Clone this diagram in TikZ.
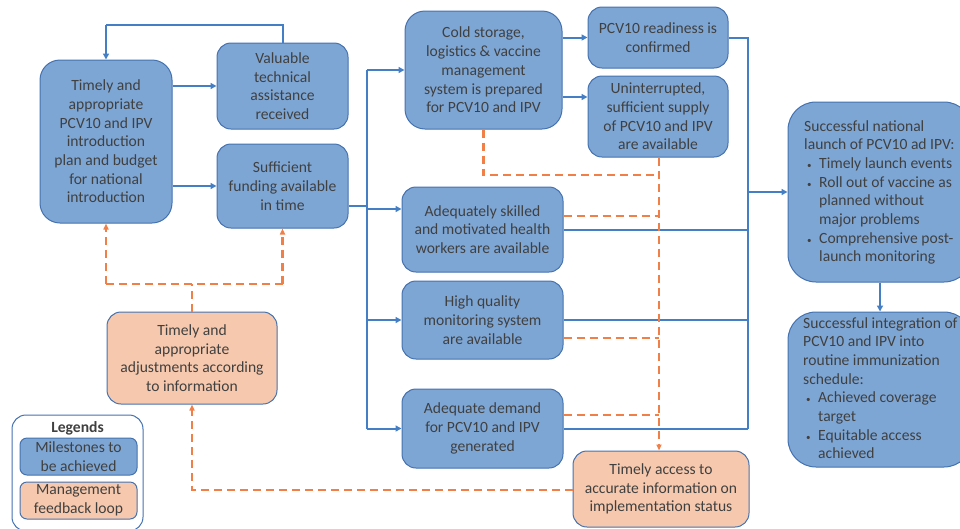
\documentclass[tikz,border=0pt]{standalone}
\usepackage{fontspec}
\setmainfont{Carlito}
\usetikzlibrary{arrows.meta}
\definecolor{msfill}{RGB}{126,166,212}
\definecolor{msdraw}{RGB}{68,114,176}
\definecolor{fbfill}{RGB}{246,201,174}
\definecolor{flowline}{RGB}{68,126,196}
\definecolor{fbline}{RGB}{240,128,72}
\definecolor{txt}{RGB}{64,64,64}

\begin{document}
\begin{tikzpicture}[x=1pt, y=-1pt, every node/.style={font=\fontsize{15.6}{18.7}\selectfont, text=txt}]
        \tikzstyle{milestone}=[draw=msdraw, fill=msfill, line width=1pt, rounded corners=14pt, align=center, inner sep=0pt]
        \tikzstyle{feedback}=[draw=msdraw, fill=fbfill, line width=1pt, rounded corners=14pt, align=center, inner sep=0pt]
        \tikzstyle{outcome}=[draw=msdraw, fill=msfill, line width=1pt, rounded corners=28pt, align=left, inner sep=0pt]
        \tikzstyle{flow}=[draw=flowline, line width=2pt]
        \tikzstyle{arrow}=[flow, -{Triangle[length=6pt,width=6pt]}]
        \tikzstyle{loop}=[draw=fbline, line width=2.2pt, dash pattern=on 8pt off 5pt]
        \tikzstyle{loop arrow}=[loop, -{Triangle[length=6pt,width=5pt]}]
        \newcommand{\blt}{\makebox[15pt][l]{\hspace{3pt}\small\textbullet}}
        \useasboundingbox (0,0) rectangle (960,528);

        % milestones
        \node [style=milestone, minimum width=132pt, minimum height=163pt, rounded corners=20pt] (plan) at (106,141.5) {Timely and\\appropriate\\PCV10 and IPV\\introduction\\plan and budget\\for national\\introduction};
        \node [style=milestone, minimum width=131pt, minimum height=86pt] (assist) at (282.5,86) {Valuable\\technical\\assistance\\received};
        \node [style=milestone, minimum width=131pt, minimum height=84pt] (fund) at (282.5,186) {Sufficient\\funding available\\in time};
        \node [style=milestone, minimum width=157pt, minimum height=118pt, rounded corners=20pt] (cold) at (483.5,70) {Cold storage,\\logistics \& vaccine\\management\\system is prepared\\for PCV10 and IPV};
        \node [style=milestone, minimum width=140pt, minimum height=61pt] (ready) at (658,37.5) {PCV10 readiness is\\confirmed};
        \node [style=milestone, minimum width=140pt, minimum height=81pt] (supply) at (658,116.5) {Uninterrupted,\\sufficient supply\\of PCV10 and IPV\\are available};
        \node [style=milestone, minimum width=161pt, minimum height=85pt] (staff) at (482.5,229.5) {Adequately skilled\\and motivated health\\workers are available};
        \node [style=milestone, minimum width=161pt, minimum height=78pt] (monitor) at (482.5,320) {High quality\\monitoring system\\are available};
        \node [style=milestone, minimum width=161pt, minimum height=79pt] (demand) at (482.5,428.5) {Adequate demand\\for PCV10 and IPV\\generated};

        % feedback loop
        \node [style=feedback, minimum width=176pt, minimum height=76pt] (access) at (661,489) {Timely access to\\accurate information on\\implementation status};
        \node [style=feedback, minimum width=170pt, minimum height=92pt] (adjust) at (192,358) {Timely and\\appropriate\\adjustments according\\to information};

        % outcomes
        \node [style=outcome, minimum width=184pt, minimum height=180pt] (launch) at (880,192) {};
        \node [anchor=north west, align=left, inner sep=0pt] (launchtext) at (804,120) {Successful national\\launch of PCV10 ad IPV:\\
            \blt Timely launch events\\
            \blt Roll out of vaccine as\\
            \hspace{15pt}planned without\\
            \hspace{15pt}major problems\\
            \blt Comprehensive post-\\
            \hspace{15pt}launch monitoring};
        \node [style=outcome, minimum width=184pt, minimum height=155pt] (routine) at (880,389.5) {};
        \node [anchor=north west, align=left, inner sep=0pt] (routinetext) at (803,317) {Successful integration of\\PCV10 and IPV into\\routine immunization\\schedule:\\
            \blt Achieved coverage\\
            \hspace{15pt}target\\
            \blt Equitable access\\
            \hspace{15pt}achieved};

        % legend
        \node [draw=msdraw, line width=1pt, rounded corners=14pt, minimum width=131pt, minimum height=116pt] (legend) at (77.5,473) {};
        \node [font=\fontsize{15.6}{18.7}\selectfont\bfseries] (legendtitle) at (77.5,428) {Legends};
        \node [style=milestone, rounded corners=7pt, minimum width=117pt, minimum height=37pt] (legendms) at (78.5,456.5) {Milestones to\\be achieved};
        \node [style=feedback, rounded corners=7pt, minimum width=117pt, minimum height=37pt] (legendfb) at (78.5,500.5) {Management\\feedback loop};

        % junctions
        \coordinate (top) at (106,25);
        \coordinate (split) at (367,206);
        \coordinate (merge) at (748,192);
        \coordinate (gather) at (659,175);
        \coordinate (back) at (192,284);

        % milestone flow
        \draw [style=flow] (assist.north) |- (top);
        \draw [style=arrow] (top) -- (plan.north);
        \draw [style=arrow] (plan.east |- assist) -- (assist.west);
        \draw [style=arrow] (plan.east |- fund) -- (fund.west);
        \draw [style=flow] (fund.east |- split) -- (split);
        \draw [style=flow] (split |- cold) -- (split |- demand);
        \draw [style=arrow] (split |- cold) -- (cold.west);
        \draw [style=arrow] (split |- 0,209) -- (staff.west |- 0,209);
        \draw [style=arrow] (split |- monitor) -- (monitor.west);
        \draw [style=arrow] (split |- demand) -- (demand.west);
        \draw [style=arrow] (cold.east |- ready) -- (ready.west);
        \draw [style=arrow] (cold.east |- 0,97) -- (supply.west |- 0,97);
        \draw [style=flow] (ready.east) -| (merge |- demand);
        \draw [style=flow] (staff.east) -- (merge |- staff);
        \draw [style=flow] (monitor.east) -- (merge |- monitor);
        \draw [style=flow] (demand.east) -- (merge |- demand);
        \draw [style=arrow] (merge) -- (launch.west);
        \draw [style=arrow] (launch.south) -- (routine.north);

        % feedback loop
        \draw [style=loop] (cold.south) |- (gather);
        \draw [style=loop arrow] (supply.south -| gather) -- (access.north -| gather);
        \draw [style=loop] (staff.east |- 0,216) -- (gather |- 0,216);
        \draw [style=loop] (monitor.east |- 0,338) -- (gather |- 0,338);
        \draw [style=loop] (demand.east |- 0,415) -- (gather |- 0,415);
        \draw [style=loop arrow] (access.west |- 0,490) -| (adjust.south);
        \draw [style=loop] (adjust.north) -- (back);
        \draw [style=loop] (plan.south |- back) -- (fund.south |- back);
        \draw [style=loop arrow] (plan.south |- back) -- (plan.south);
        \draw [style=loop arrow] (fund.south |- back) -- (fund.south);
\end{tikzpicture}
\end{document}
